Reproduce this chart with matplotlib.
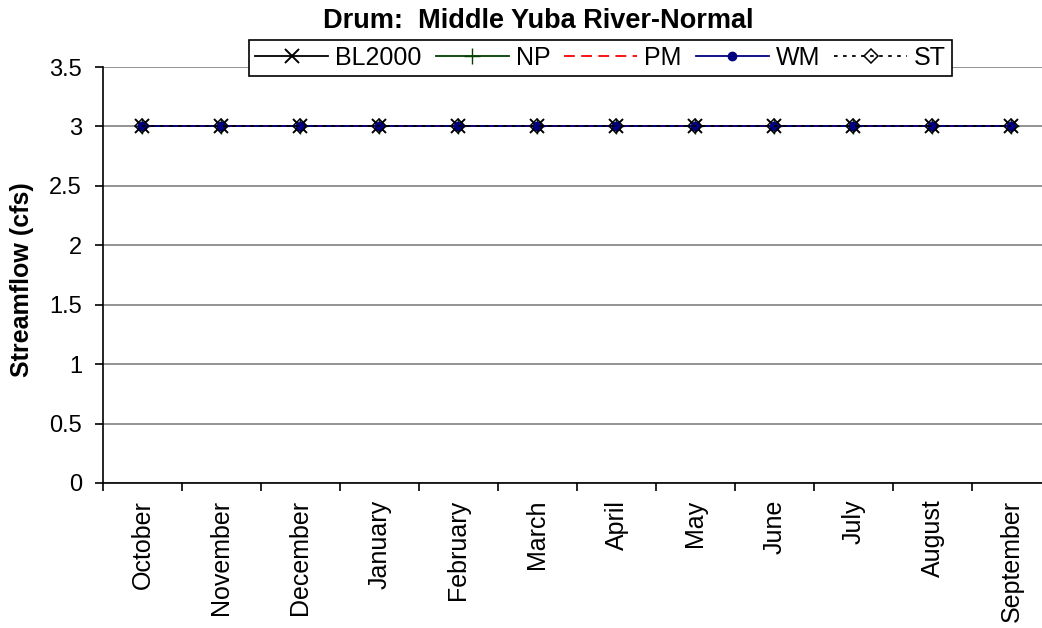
import matplotlib.pyplot as plt
import numpy as np

plt.rcParams['font.family'] = ['Liberation Sans', 'DejaVu Sans']

months = ["October", "November", "December", "January", "February", "March",
          "April", "May", "June", "July", "August", "September"]
bl2000 = [3, 3, 3, 3, 3, 3, 3, 3, 3, 3, 3, 3]
np_vals = [3, 3, 3, 3, 3, 3, 3, 3, 3, 3, 3, 3]
pm = [3, 3, 3, 3, 3, 3, 3, 3, 3, 3, 3, 3]
wm = [3, 3, 3, 3, 3, 3, 3, 3, 3, 3, 3, 3]
st = [3, 3, 3, 3, 3, 3, 3, 3, 3, 3, 3, 3]

fig = plt.figure(figsize=(10.42, 6.28), dpi=100)
# plot area runs a bit past the right edge, like the cropped original
ax = fig.add_axes([0.0988, 0.2309, 0.9098, 0.6624])

x = np.arange(len(months))
ax.plot(x, bl2000, color='black', marker='x', markersize=10, mew=1.4, lw=1.3, label='BL2000')
ax.plot(x, np_vals, color='#004000', marker='+', markersize=11, mew=1, lw=1.3, label='NP')
ax.plot(x, pm, color='red', ls=(0, (6, 3.5)), lw=1.3, label='PM')
ax.plot(x, wm, color='#000080', marker='o', markersize=6, lw=1.3, label='WM')
ax.plot(x, st, color='black', ls=(0, (2, 3)), marker='D', markersize=7, mfc='none',
        mew=1.1, lw=1.3, label='ST')

ax.set_xlim(-0.5, 11.5)
ax.set_ylim(0, 3.5)
ax.set_yticks(np.arange(0, 3.51, 0.5))
ax.set_yticklabels(['0', '0.5', '1', '1.5', '2', '2.5', '3', '3.5'], fontsize=17)
ax.yaxis.grid(True, color='#808080', lw=1.2)
ax.set_axisbelow(True)

ax.set_xticks(x)
ax.set_xticklabels(months, rotation=90, fontsize=18, va='top')
ax.tick_params(axis='x', length=0, pad=12)
ax.set_xticks(np.arange(-0.5, 12, 1), minor=True)
ax.tick_params(axis='x', which='minor', length=6, width=1.2, direction='out')
ax.tick_params(axis='y', length=6, width=1.2, direction='out', pad=9)

ax.spines['top'].set_visible(False)
ax.spines['right'].set_visible(False)
ax.spines['left'].set_linewidth(1.2)
ax.spines['bottom'].set_linewidth(1.2)

ax.set_ylabel('Streamflow (cfs)', fontsize=18, fontweight='bold')
ax.yaxis.set_label_coords(-0.073, 0.49)
fig.text(0.517, 0.966, 'Drum:  Middle Yuba River-Normal', ha='center', va='center',
         fontsize=19.5, fontweight='bold')

leg = ax.legend(loc='center', bbox_to_anchor=(0.525, 1.0216), ncol=5, fontsize=18,
                frameon=True, fancybox=False, edgecolor='black', framealpha=1,
                handlelength=2.92, handletextpad=0.28, columnspacing=0.56,
                borderpad=0.25, borderaxespad=0)
leg.get_frame().set_linewidth(1.2)

fig.savefig('out.png', dpi=100)
